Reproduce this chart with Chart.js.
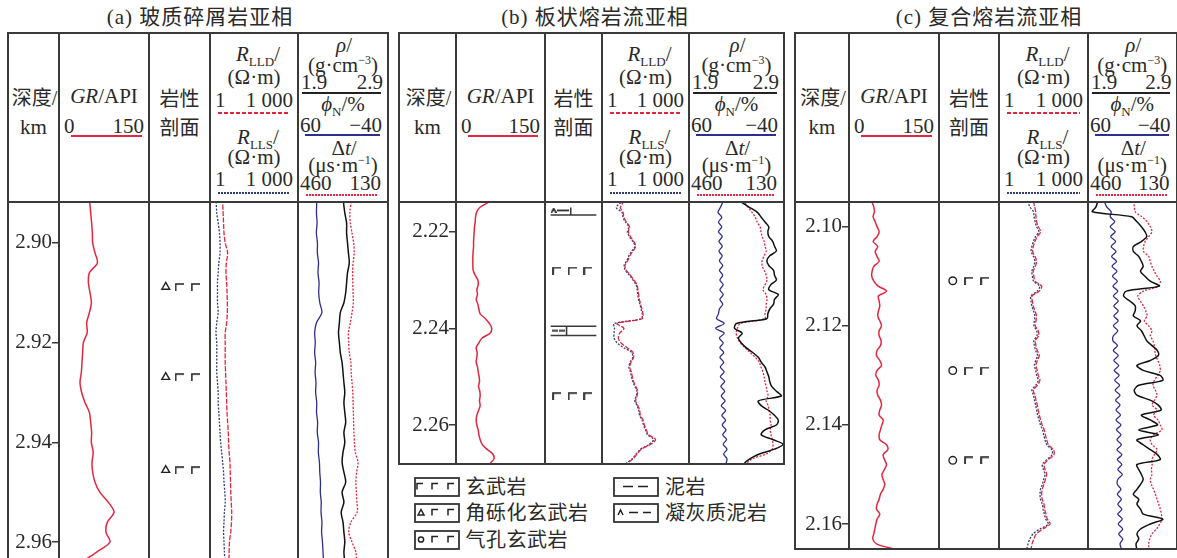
<!DOCTYPE html>
<html lang="zh">
<head>
<meta charset="utf-8">
<title>火山岩亚相测井响应</title>
<script src="https://cdn.jsdelivr.net/npm/chart.js@4.4.1/dist/chart.umd.min.js"></script>
<style>
  html, body { margin: 0; padding: 0; background: #fff; }
  #fig { position: relative; width: 1177px; height: 558px; overflow: hidden;
         font-family: "Liberation Serif", "DejaVu Serif", "Noto Sans CJK SC", serif; color: #2a2a2a; }
  #fig canvas { position: absolute; }
  .t { position: absolute; white-space: nowrap; font-size: 21px; line-height: 1; }
  .t sub { font-size: 13px; vertical-align: -5px; line-height: 0; }
  .t sup { font-size: 12px; vertical-align: 8px; line-height: 0; }
  .cjk { font-size: 20px; }
  .title { letter-spacing: 1px; }
  .key { font-size: 20px; letter-spacing: 0.5px; }
  .ln, .sw { position: absolute; }
</style>
</head>
<body>
<div id="fig"></div>
<script>
// --- (a) 玻质碎屑岩亚相 : valeurs ---
const depthA = [2.891, 2.894, 2.896, 2.898, 2.900, 2.902, 2.904, 2.906, 2.908, 2.910, 2.912, 2.914, 2.916,
  2.918, 2.920, 2.922, 2.924, 2.926, 2.928, 2.930, 2.932, 2.934, 2.936, 2.938, 2.940, 2.942, 2.944, 2.946,
  2.948, 2.950, 2.952, 2.954, 2.956, 2.958, 2.960, 2.962, 2.964];
const grA = [50.6, 52.8, 54.4, 55.6, 56.1, 60, 64, 50.6, 49, 51.7, 54, 50.6, 46.1, 47, 40.6, 39.4, 38.3,
  37.2, 35, 37.8, 43.3, 50.6, 52.8, 54.4, 53.9, 57, 55, 56.1, 60, 68, 82, 91.7, 80.6, 78.3, 85, 62.8, 37.8];
const lldA = [2.7, 2.8, 2.9, 3.0, 3.3, 4.0, 3.6, 3.5, 3.7, 3.8, 3.9, 3.9, 3.7, 3.3, 3.3, 3.3, 3.3, 3.4, 3.5,
  3.6, 3.7, 3.8, 4.0, 4.2, 4.3, 4.5, 4.8, 4.9, 5.0, 5.1, 5.3, 5.5, 5.4, 5.1, 4.6, 4.5, 4.4];
const llsA = [1.6, 1.7, 1.9, 2.1, 2.2, 2.2, 2.0, 1.9, 1.8, 1.8, 1.8, 1.9, 1.7, 1.6, 1.7, 1.7, 1.7, 1.7, 1.8,
  1.9, 1.9, 2.0, 2.1, 2.2, 2.3, 2.5, 2.7, 2.9, 3.0, 3.2, 3.3, 3.1, 3.0, 2.9, 3.0, 3.1, 3.2];
const denA = [2.40, 2.42, 2.44, 2.44, 2.45, 2.46, 2.47, 2.45, 2.44, 2.43, 2.41, 2.37, 2.36, 2.35, 2.36, 2.37,
  2.39, 2.40, 2.41, 2.42, 2.41, 2.42, 2.43, 2.41, 2.42, 2.40, 2.39, 2.41, 2.43, 2.39, 2.41, 2.38, 2.40, 2.41,
  2.42, 2.41, 2.42];
const cnlA = [39, 39.5, 38.8, 39.6, 38.4, 38.5, 37.2, 37.8, 36.6, 37, 35.8, 33.5, 39.5, 41.5, 40.8, 41.5, 40.4,
  41, 40, 40.4, 39.2, 39.4, 38.2, 38.6, 37.2, 37.4, 36.2, 35.8, 35, 35.2, 34.2, 34.4, 33.4, 33.8, 32.8, 32.2, 31.5];
const acA = [263, 270, 268, 262, 256, 254, 258, 260, 259, 258, 257, 262, 268, 275, 274, 272, 266, 265, 262,
  259, 258, 257, 256, 255, 253, 250, 240, 245, 248, 246, 244, 243, 266, 274, 262, 248, 245];
const depthTicksA = [2.90, 2.92, 2.94, 2.96];
const symDepthA = [2.9082, 2.9269, 2.9462];   // 角砾化玄武岩

// --- (b) 板状熔岩流亚相 ---
const depthB = [2.2135, 2.215, 2.216, 2.217, 2.218, 2.219, 2.220, 2.221, 2.222, 2.223, 2.224, 2.225, 2.226,
  2.227, 2.228, 2.229, 2.230, 2.231, 2.232, 2.233, 2.234, 2.235, 2.236, 2.237, 2.238, 2.239, 2.240, 2.241,
  2.242, 2.243, 2.244, 2.245, 2.246, 2.247, 2.248, 2.249, 2.250, 2.251, 2.252, 2.253, 2.254, 2.255, 2.256,
  2.257, 2.258, 2.259, 2.260, 2.261, 2.262, 2.263, 2.264, 2.265, 2.266, 2.267, 2.268, 2.269];
const grB = [62, 40, 34.6, 32.9, 32.3, 31.2, 30.7, 30.1, 29.6, 29.6, 29, 28.4, 28.4, 28.4, 29, 32.3, 36.8,
  37.4, 35.1, 36.2, 34, 36.8, 38.5, 40.7, 49.6, 56.3, 60.2, 57.4, 44, 38.5, 34, 35.7, 35.1, 34, 36.2, 37.4,
  39, 39.6, 37.9, 40.1, 40.7, 39.6, 40.7, 37.9, 35.1, 34, 35.1, 37.4, 38.5, 40.7, 44, 51.9, 61.9, 64, 57.4, 54.6];
const lldB = [6.05, 4.3, 5.3, 5.7, 6.9, 9.0, 8.1, 9.5, 12.3, 14.5, 11.7, 9.0, 7.7, 6.2, 6.9, 9.5, 12.7, 16.1,
  17.4, 18.4, 19.4, 21.5, 23.9, 25.9, 24.6, 3.3, 5.7, 4.07, 3.66, 4.5, 7.3, 11.7, 12.3, 10, 9, 10.3, 11.1, 12.3,
  14.5, 17, 16.1, 14.5, 17.4, 19.9, 21, 25.9, 28.8, 33.8, 39.6, 70, 48, 22.7, 16.1, 11.7, 7.3, 6];
const llsB = [5.6, 3.1, 4.9, 5.3, 6.4, 8.4, 7.5, 8.8, 11.5, 13.6, 10.9, 8.4, 7.2, 5.8, 6.4, 8.8, 11.8, 15,
  16.3, 17.2, 18.1, 20.2, 22.3, 24.3, 22.8, 2.6, 2.7, 2.6, 2.6, 3.3, 5.6, 10.5, 11.5, 9.4, 8.4, 9.6, 10.4, 11.5,
  13.6, 16, 15.1, 13.6, 16.3, 18.6, 19.7, 24.3, 27, 31.6, 37, 60, 42, 21.3, 15.1, 11, 6.8, 5.6];
const denB = [2.42, 2.54, 2.62, 2.66, 2.70, 2.74, 2.73, 2.74, 2.78, 2.80, 2.82, 2.75, 2.72, 2.74, 2.79, 2.80,
  2.82, 2.76, 2.74, 2.84, 2.80, 2.79, 2.75, 2.73, 2.72, 2.40, 2.38, 2.46, 2.42, 2.45, 2.50, 2.57, 2.63, 2.66,
  2.70, 2.72, 2.74, 2.75, 2.77, 2.82, 2.87, 2.63, 2.66, 2.74, 2.80, 2.84, 2.82, 2.70, 2.66, 2.78, 2.89, 2.80,
  2.64, 2.54, 2.48, 2.46];
const cnlB = [23.6, 27, 29.5, 25.5, 29, 25.5, 29, 25, 28.5, 25, 28.5, 25, 28, 24.5, 28, 24.5, 27.5, 24, 27.5,
  24, 27.5, 24.5, 28, 29, 31, 23, 32, 23, 28, 24, 27.5, 23.5, 27.5, 23.5, 27, 23, 27, 22.5, 26.5, 22.5, 26, 22,
  26, 21.5, 25.5, 21.5, 25, 21, 24.5, 20.5, 24, 20, 23.5, 20, 21, 20];
const acB = [272, 254, 241, 230, 223, 213, 210, 206, 199, 196, 192, 199, 206, 206, 199, 192, 189, 196, 203,
  192, 189, 192, 192, 196, 196, 282, 292, 296, 292, 282, 265, 248, 230, 216, 210, 203, 199, 196, 192, 189,
  185, 192, 185, 182, 178, 178, 175, 178, 175, 171, 168, 171, 192, 241, 261, 268];
const depthTicksB = [2.22, 2.24, 2.26];
const symDepthB = [2.2275, 2.2546];           // 玄武岩
const tuffLayerB = [2.2135, 2.2155];          // 凝灰质泥岩
const mudLayerB = [2.2395, 2.2415];           // 泥岩

// --- (c) 复合熔岩流亚相 ---
const depthC = [2.0948, 2.096, 2.097, 2.098, 2.099, 2.100, 2.101, 2.102, 2.103, 2.104, 2.105, 2.106, 2.107,
  2.108, 2.109, 2.110, 2.111, 2.112, 2.113, 2.114, 2.115, 2.116, 2.117, 2.118, 2.119, 2.120, 2.121, 2.122,
  2.123, 2.124, 2.125, 2.126, 2.127, 2.128, 2.129, 2.130, 2.131, 2.132, 2.133, 2.134, 2.135, 2.136, 2.137,
  2.138, 2.139, 2.140, 2.141, 2.142, 2.143, 2.144, 2.145, 2.146, 2.147, 2.148, 2.149, 2.150, 2.151, 2.152,
  2.153, 2.154, 2.155, 2.156, 2.157, 2.158, 2.159, 2.160, 2.161, 2.162, 2.163, 2.164, 2.1652];
const grC = [37.4, 41.3, 42.4, 40.2, 43.6, 46.8, 50.2, 46.8, 40.2, 47.9, 43.6, 46.8, 50.2, 41.3, 38.5, 37.9,
  41.3, 48.5, 62.5, 49.1, 50.2, 51.3, 49.1, 47.9, 51.3, 54.2, 50.2, 50.2, 53.6, 52.4, 46.8, 45.8, 51.3, 54.2,
  46.8, 44.7, 49.1, 50.2, 46.8, 47.9, 52.4, 54.2, 51.3, 50.2, 56.9, 54.8, 52.4, 50.2, 51.3, 62.5, 64.7, 56.9,
  59.1, 62.5, 59.1, 54.8, 56.9, 59.7, 56.9, 52.4, 50.2, 46.8, 45.8, 51.3, 46.8, 44.7, 43, 41.3, 39.6, 45.8, 79.3];
const lldC = [14.3, 15.9, 17.2, 17.6, 18.5, 21.1, 25.4, 19.5, 16.3, 14.3, 13.6, 16.3, 18.5, 16.7, 14.3, 15,
  16.3, 27.5, 22.8, 13, 13.3, 14.3, 16.3, 18.5, 17.6, 16.7, 21.1, 21.6, 16.7, 17.6, 19.5, 22.8, 19.5, 17.6,
  19.5, 21.1, 24, 19.5, 14.3, 16.3, 17.6, 19.5, 21.1, 22.8, 25.4, 28.5, 33.5, 36.5, 40.6, 46, 68, 71, 46, 32.9,
  35.6, 40.6, 36.5, 32.9, 28.5, 27.5, 28.5, 32.9, 34.5, 38.5, 42.5, 52.5, 30, 18, 15, 13, 12];
const llsC = [9, 11, 14.5, 15.2, 16.5, 18.5, 22, 17, 14.5, 12.8, 12.2, 14.5, 16.2, 14.8, 12.8, 13.4, 14.6,
  23.5, 19.5, 11.8, 12, 12.8, 14.5, 16.2, 15.6, 15, 18.6, 19, 15, 15.6, 17.2, 20, 17.2, 15.6, 17.2, 18.6, 21,
  17.2, 12.8, 14.5, 15.6, 17.2, 18.6, 20, 22.4, 25, 29.5, 32, 35.6, 40.5, 60, 62, 40.5, 29, 31.3, 35.6, 32, 29,
  25, 24.2, 25, 29, 30.4, 34, 37.4, 46, 24, 14, 11, 9.5, 8.5];
const denC = [2.01, 1.99, 1.95, 2.39, 2.45, 2.50, 2.54, 2.56, 2.50, 2.41, 2.41, 2.47, 2.50, 2.52, 2.49, 2.54,
  2.60, 2.70, 2.33, 2.30, 2.37, 2.43, 2.43, 2.41, 2.49, 2.45, 2.50, 2.53, 2.56, 2.62, 2.68, 2.69, 2.60, 2.45,
  2.52, 2.71, 2.74, 2.47, 2.42, 2.45, 2.60, 2.69, 2.72, 2.50, 2.60, 2.68, 2.47, 2.69, 2.45, 2.52, 2.60, 2.68,
  2.71, 2.45, 2.47, 2.50, 2.52, 2.49, 2.45, 2.41, 2.47, 2.45, 2.49, 2.52, 2.74, 2.60, 2.49, 2.45, 2.47, 2.44, 2.45];
const cnlC = [42, 39, 34, 35, 30, 35, 29.5, 34.5, 29, 34, 28.5, 33.5, 28, 33, 27.5, 32.5, 27, 32, 26.5, 31.5,
  26, 31, 26, 31, 26, 31.5, 26.5, 31.5, 32, 27, 31.5, 26, 31, 25.5, 30.5, 25, 30, 24.5, 29.5, 24, 29, 24, 28.5,
  23.5, 28.5, 23, 28, 23, 27.5, 22.5, 27.5, 22, 27, 22, 26.5, 21.5, 26.5, 27, 23, 27, 22.5, 26.5, 22, 26.5,
  21.5, 26, 21, 25.5, 21, 24, 22];
const acC = [291, 288, 285, 260, 241, 229, 223, 235, 248, 254, 254, 235, 229, 223, 214, 204, 192, 198, 254,
  276, 266, 254, 246, 241, 251, 235, 223, 229, 219, 214, 212, 209, 201, 194, 192, 201, 214, 219, 210, 204, 214,
  222, 204, 217, 201, 192, 186, 217, 229, 222, 204, 214, 223, 222, 225, 223, 229, 225, 217, 210, 204, 198, 192,
  188, 186, 194, 206, 223, 231, 235, 235];
const depthTicksC = [2.10, 2.12, 2.14, 2.16];
const symDepthC = [2.1103, 2.1290, 2.1477];   // 气孔玄武岩

const RED = '#e3263f', BLUE = '#2d2f8c', DOT = '#333a78', INK = '#3a3a3a';
const fig = document.getElementById('fig');

// --- Mise en page des trois panneaux (pixels) ---
const panels = [
  { title: '(a) 玻质碎屑岩亚相', tx: 200, left: 8, right: 388, bottom: 558, closed: false,
    cols: [59, 149, 210, 298], top: 2.8918, base: 2.9632, ticks: depthTicksA,
    depth: depthA, gr: grA, lld: lldA, lls: llsA, den: denA, cnl: cnlA, ac: acA },
  { title: '(b) 板状熔岩流亚相', tx: 595, left: 399, right: 784, bottom: 464, closed: true,
    cols: [456, 545, 602, 689], top: 2.21386, base: 2.26807, ticks: depthTicksB,
    depth: depthB, gr: grB, lld: lldB, lls: llsB, den: denB, cnl: cnlB, ac: acB },
  { title: '(c) 复合熔岩流亚相', tx: 989, left: 795, right: 1176.5, bottom: 549, closed: true,
    cols: [849, 939, 999, 1088], top: 2.09502, base: 2.16504, ticks: depthTicksC,
    depth: depthC, gr: grC, lld: lldC, lls: llsC, den: denC, cnl: cnlC, ac: acC }
];
const TOP = 33, HEAD = 202;

function txt(html, x, y, align = 'c', cls = '') {
  const el = document.createElement('div');
  el.className = 't ' + cls;
  el.innerHTML = html;
  el.style.left = x + 'px';
  el.style.top = y + 'px';
  const tx = align === 'l' ? '0' : align === 'r' ? '-100%' : '-50%';
  el.style.transform = `translate(${tx}, -50%)`;
  fig.appendChild(el);
}

function rule(x1, y1, x2, y2, w = 2, color = INK) {
  const el = document.createElement('div');
  el.className = 'ln';
  if (y1 === y2) {
    Object.assign(el.style, { left: (x1 - 1) + 'px', top: (y1 - w / 2) + 'px', width: (x2 - x1 + 2) + 'px', height: w + 'px' });
  } else {
    Object.assign(el.style, { left: (x1 - w / 2) + 'px', top: (y1 - 1) + 'px', width: w + 'px', height: (y2 - y1 + 2) + 'px' });
  }
  el.style.background = color;
  fig.appendChild(el);
}

// trait d'échelle sous les en-têtes (plein, tireté ou pointillé)
function keyLine(x1, x2, y, color, kind) {
  const el = document.createElement('div');
  el.className = 'ln';
  Object.assign(el.style, { left: x1 + 'px', top: (y - 1) + 'px', width: (x2 - x1) + 'px', height: '1.6px' });
  if (kind === 'solid') el.style.background = color;
  else if (kind === 'dash') el.style.background = `repeating-linear-gradient(90deg, ${color} 0 4px, transparent 4px 6px)`;
  else el.style.background = `repeating-linear-gradient(90deg, ${color} 0 1.6px, transparent 1.6px 3px)`;
  fig.appendChild(el);
}

function header(p) {
  const [c1, c2, c3, c4] = p.cols;
  const L = p.left, R = p.right;
  const mid = (a, b) => (a + b) / 2;
  txt(p.title, p.tx, 17, 'c', 'title');
  txt('深度/', mid(L, c1) + 1, 98, 'c', 'cjk');
  txt('km', mid(L, c1), 127);
  txt('<i>GR</i>/API', mid(c1, c2), 96);
  txt('0', c1 + 5, 126, 'l');
  txt('150', c2 - 5, 126, 'r');
  keyLine(c1 + 12, c2 - 7, 136, RED, 'solid');
  txt('岩性', mid(c2, c3), 99, 'c', 'cjk');
  txt('剖面', mid(c2, c3), 127.5, 'c', 'cjk');
  txt('<i>R</i><sub>LLD</sub>/', mid(c3, c4) + 4, 54);
  txt('(Ω·m)', mid(c3, c4), 76.5);
  txt('1', c3 + 5, 99.5, 'l');
  txt('1 000', c4 - 5, 99.5, 'r');
  keyLine(c3 + 8, c4 - 8, 113, RED, 'dash');
  txt('<i>R</i><sub>LLS</sub>/', mid(c3, c4) + 4, 137);
  txt('(Ω·m)', mid(c3, c4), 157);
  txt('1', c3 + 5, 178.5, 'l');
  txt('1 000', c4 - 5, 178.5, 'r');
  keyLine(c3 + 8, c4 - 8, 193, DOT, 'dot');
  txt('<i>ρ</i>/', mid(c4, R) + 1, 45);
  txt('(g·cm<sup>−3</sup>)', mid(c4, R), 64.5);
  txt('1.9', c4 + 3, 82, 'l');
  txt('2.9', R - 5, 82, 'r');
  keyLine(c4 + 4, R - 7, 93, '#222', 'solid');
  txt('<i>ϕ</i><sub>N</sub>/%', mid(c4, R), 104);
  txt('60', c4 + 2, 124.5, 'l');
  txt('−40', R - 6, 124.5, 'r');
  keyLine(c4 + 7, R - 8, 135, BLUE, 'solid');
  txt('Δ<i>t</i>/', mid(c4, R) + 1, 147.5);
  txt('(μs·m<sup>−1</sup>)', mid(c4, R), 164.5);
  txt('460', c4 + 2, 183, 'l');
  txt('130', R - 7, 183, 'r');
  keyLine(c4 + 8, R - 10, 195, RED, 'dot');
}

function frame(p) {
  rule(p.left, TOP, p.right, TOP);
  rule(p.left, HEAD, p.right, HEAD);
  if (p.closed) rule(p.left, p.bottom, p.right, p.bottom);
  [p.left, ...p.cols, p.right].forEach(x => rule(x, TOP, x, p.bottom));
}

// --- Symboles lithologiques dessinés comme styles de points ---
function glyph(w, h, draw) {
  const c = document.createElement('canvas');
  c.width = w; c.height = h;
  const g = c.getContext('2d');
  g.strokeStyle = '#222';
  g.lineWidth = 1.7;
  g.beginPath();
  draw(g);
  g.stroke();
  return c;
}
const cornerImg = glyph(9, 8, g => { g.moveTo(1, 8); g.lineTo(1, 1); g.lineTo(9, 1); });
const dashImg = glyph(6, 3, g => { g.moveTo(0, 1.5); g.lineTo(6, 1.5); });
const caretImg = glyph(6, 5, g => { g.moveTo(0.5, 5); g.lineTo(3, 0.8); g.lineTo(5.5, 5); });

function makeCanvas(x, y, w, h) {
  const c = document.createElement('canvas');
  c.width = w; c.height = h;
  c.style.left = x + 'px'; c.style.top = y + 'px';
  c.style.width = w + 'px'; c.style.height = h + 'px';
  fig.appendChild(c);
  return c;
}

const baseOpts = {
  responsive: false, animation: false, devicePixelRatio: 1, events: [],
  layout: { padding: 0 },
  plugins: { legend: { display: false }, tooltip: { enabled: false } }
};

function makeChart(x, y, w, h, datasets, scales) {
  return new Chart(makeCanvas(x, y, w, h), {
    type: 'scatter',
    data: { datasets },
    options: { ...baseOpts, scales }
  });
}

function curve(depth, vals, color, width, dash, axis) {
  return {
    data: depth.map((d, i) => ({ x: vals[i], y: d })),
    xAxisID: axis, showLine: true, borderColor: color, borderWidth: width,
    borderDash: dash, pointRadius: 0, tension: 0.3, fill: false
  };
}

function marks(depths, xf, style, r) {
  return {
    data: depths.map(d => ({ x: xf, y: d })), showLine: false, pointStyle: style, pointRadius: r,
    pointBorderColor: '#222', pointBackgroundColor: 'rgba(0,0,0,0)', pointBorderWidth: 1.4
  };
}

function segment(x1, y1, x2, y2) {
  return {
    data: [{ x: x1, y: y1 }, { x: x2, y: y2 }], showLine: true,
    borderColor: INK, borderWidth: 1.6, pointRadius: 0
  };
}

function hiddenY(p) {
  return { type: 'linear', reverse: true, min: p.top, max: p.base, display: false };
}

function depthAxis(p) {
  return {
    type: 'linear', reverse: true, min: p.top, max: p.base, position: 'left',
    afterBuildTicks: s => { s.ticks = p.ticks.map(v => ({ value: v })); },
    afterFit: s => { s.width = p.cols[0] - p.left; s.paddingTop = 0; s.paddingBottom = 0; },
    grid: { drawOnChartArea: false, tickLength: 7, color: INK, lineWidth: 1.5 },
    border: { display: false },
    ticks: {
      padding: 0, autoSkip: false, color: '#2a2a2a',
      font: { family: 'Liberation Serif', size: 21 },
      callback: v => v.toFixed(2)
    }
  };
}

function lithoSets(i) {
  if (i === 0) {
    return [marks(symDepthA, 0.22, 'triangle', 4.5), marks(symDepthA, 0.49, cornerImg, 4), marks(symDepthA, 0.82, cornerImg, 4)];
  }
  if (i === 2) {
    return [marks(symDepthC, 0.17, 'circle', 3.8), marks(symDepthC, 0.49, cornerImg, 4), marks(symDepthC, 0.82, cornerImg, 4)];
  }
  const tuffMid = (tuffLayerB[0] + tuffLayerB[1]) / 2;
  const mudMid = (mudLayerB[0] + mudLayerB[1]) / 2;
  return [
    marks(symDepthB, 0.135, cornerImg, 4), marks(symDepthB, 0.47, cornerImg, 4), marks(symDepthB, 0.81, cornerImg, 4),
    segment(0, tuffLayerB[1], 1, tuffLayerB[1]),
    segment(0.44, tuffLayerB[0], 0.44, tuffLayerB[1]),
    marks([tuffMid], 0.07, caretImg, 4), marks([tuffMid], 0.215, dashImg, 4), marks([tuffMid], 0.345, dashImg, 4),
    segment(0, mudLayerB[0], 1, mudLayerB[0]),
    segment(0, mudLayerB[1], 1, mudLayerB[1]),
    segment(0.35, mudLayerB[0], 0.35, mudLayerB[1]),
    marks([mudMid], 0.09, dashImg, 4), marks([mudMid], 0.255, dashImg, 4)
  ];
}

panels.forEach((p, i) => {
  const [c1, c2, c3, c4] = p.cols;
  const h = p.bottom - HEAD;

  // profondeur + GR
  makeChart(p.left, HEAD, c2 - p.left, h,
    [curve(p.depth, p.gr, RED, 1.5, [], 'x')],
    { x: { type: 'linear', min: 0, max: 150, display: false }, y: depthAxis(p) });

  // colonne lithologique
  makeChart(c2, HEAD, c3 - c2, h, lithoSets(i),
    { x: { type: 'linear', min: 0, max: 1, display: false }, y: hiddenY(p) });

  // résistivités
  makeChart(c3, HEAD, c4 - c3, h,
    [curve(p.depth, p.lld, RED, 1.3, [5, 1.5], 'x'), curve(p.depth, p.lls, DOT, 1.3, [2, 1.5], 'x')],
    { x: { type: 'logarithmic', min: 1, max: 1000, display: false }, y: hiddenY(p) });

  // densité, neutron, sonique
  makeChart(c4, HEAD, Math.round(p.right - c4), h,
    [curve(p.depth, p.den, '#111', 1.5, [], 'xDen'),
     curve(p.depth, p.cnl, BLUE, 1.3, [], 'xCnl'),
     curve(p.depth, p.ac, RED, 1.3, [2, 1.5], 'xAc')],
    {
      xDen: { axis: 'x', type: 'linear', min: 1.9, max: 2.9, display: false },
      xCnl: { axis: 'x', type: 'linear', min: -40, max: 60, reverse: true, display: false },
      xAc: { axis: 'x', type: 'linear', min: 130, max: 460, reverse: true, display: false },
      y: hiddenY(p)
    });

  header(p);
  frame(p);
});

// --- Légende (sous le panneau b) ---
function swatch(kind) {
  const k = x => `<path d="M${x} 12.5 V6.5 H${x + 6}"/>`;
  let inner = '';
  if (kind === 'basalt') inner = k(3) + k(18) + k(34);
  if (kind === 'breccia') inner = '<path d="M4 12 L7 6.5 L10 12 Z"/>' + k(18) + k(34);
  if (kind === 'vesicular') inner = '<circle cx="7" cy="9.5" r="2.6"/>' + k(18) + k(34);
  if (kind === 'mud') inner = '<path d="M10 9.5 H20 M25 9.5 H35"/>';
  if (kind === 'tuff') inner = '<path d="M5 12 L7.5 7 L10 12 M16 9.5 H25 M30 9.5 H38"/>';
  return `<svg width="46" height="20" viewBox="0 0 46 20"><rect x="1" y="1" width="44" height="18" fill="none" stroke="#333" stroke-width="1.8"/>` +
    `<g fill="none" stroke="#222" stroke-width="1.5">${inner}</g></svg>`;
}

const legendItems = [
  { name: '玄武岩', kind: 'basalt', x: 413.5, y: 476.5 },
  { name: '角砾化玄武岩', kind: 'breccia', x: 413.5, y: 503 },
  { name: '气孔玄武岩', kind: 'vesicular', x: 413.5, y: 530 },
  { name: '泥岩', kind: 'mud', x: 613, y: 476.5 },
  { name: '凝灰质泥岩', kind: 'tuff', x: 613, y: 503 }
];
legendItems.forEach(it => {
  const sw = document.createElement('div');
  sw.className = 'sw';
  sw.style.left = it.x + 'px';
  sw.style.top = it.y + 'px';
  sw.innerHTML = swatch(it.kind);
  fig.appendChild(sw);
  txt(it.name, it.x + 52, it.y + 10, 'l', 'key');
});
</script>
</body>
</html>
